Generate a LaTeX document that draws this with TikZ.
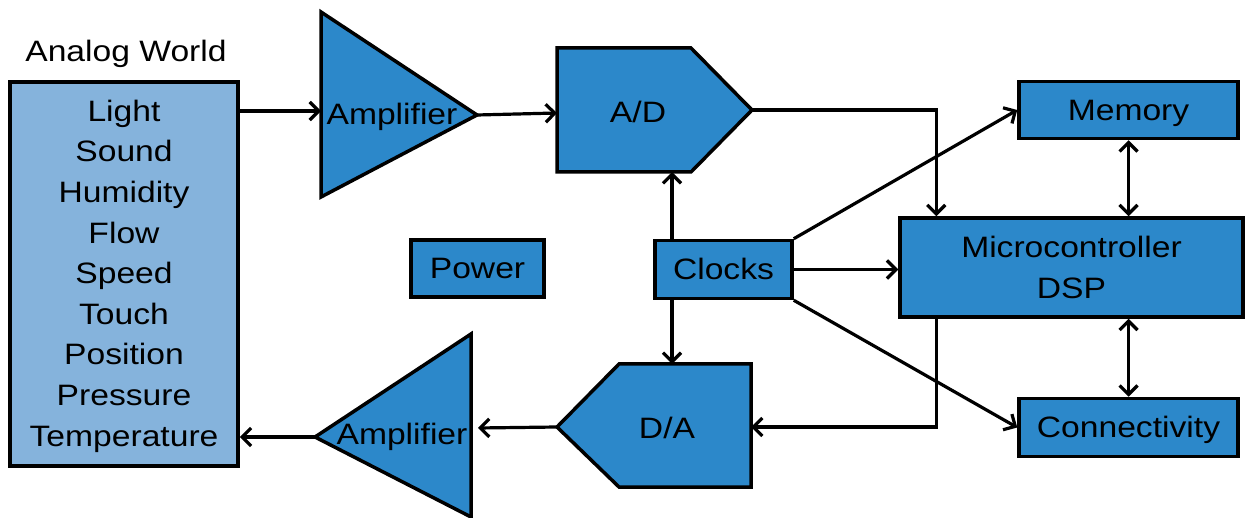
\documentclass[tikz,border=0pt]{standalone}
\usepackage{fontspec}
\setmainfont{Liberation Sans}[FakeStretch=1.14]
\usetikzlibrary{arrows.meta}
\definecolor{lblue}{RGB}{133,179,220}
\definecolor{dblue}{RGB}{44,136,202}
\begin{document}
\begin{tikzpicture}[x=1pt,y=-1pt,
  every node/.style={font=\fontsize{29.5}{40.6}\selectfont, inner sep=0pt},
  lbl/.style={text height=21pt, text depth=0pt},
  blk/.style={draw=black, line width=3.5pt, fill=dblue, line join=miter},
  box/.style={blk, align=center},
  arr/.style={line width=3.2pt, -{Straight Barb[length=9pt,width=18pt]}},
  darr/.style={line width=3.2pt, {Straight Barb[length=9pt,width=18pt]}-{Straight Barb[length=9pt,width=18pt]}}]
\useasboundingbox (0,0) rectangle (1245,518);

% Analog world
\node[lbl] (title) at (126,51) {Analog World};
\node[box, fill=lblue, minimum width=228pt, minimum height=384pt] (analog) at (124,274) {};
\node[align=center] (analogtext) at (124,276)
  {Light\\Sound\\Humidity\\Flow\\Speed\\Touch\\Position\\Pressure\\Temperature};

% Amplifier 1
\draw[blk] (321,12) -- (477,115) -- (321,197) -- cycle;
\node[lbl] (amp1) at (392,114) {Amplifier};
\coordinate (amp1in) at (321,111);
\coordinate (amp1out) at (477,115);

% Amplifier 2
\draw[blk] (471,334) -- (315,437) -- (471,517) -- cycle;
\node[lbl] (amp2) at (402,434) {Amplifier};
\coordinate (amp2in) at (478,428);
\coordinate (amp2out) at (315,437);

% A/D
\draw[blk] (557,48) -- (691,48) -- (752,110) -- (691,172) -- (557,172) -- cycle;
\node[lbl] (ad) at (638,112) {A/D};
\coordinate (adin) at (557,113);
\coordinate (adout) at (752,110);
\coordinate (adbot) at (672,172);

% D/A
\draw[blk] (751,364) -- (619,364) -- (557,427) -- (619,487) -- (751,487) -- cycle;
\node[lbl] (da) at (667,428) {D/A};
\coordinate (dain) at (751,427);
\coordinate (daout) at (557,427);
\coordinate (datop) at (672,364);

% boxes
\node[box, lbl, minimum width=133pt, minimum height=57pt] (power) at (477.5,268.5) {Power};
\node[box, lbl, minimum width=137pt, minimum height=58pt] (clocks) at (723.5,269.5) {Clocks};
\node[box, minimum width=343pt, minimum height=99pt] (micro) at (1071.5,267.5) {Microcontroller\\DSP};
\node[box, lbl, minimum width=219pt, minimum height=57pt] (memory) at (1128.5,110) {Memory};
\node[box, lbl, minimum width=219pt, minimum height=58pt] (connect) at (1128.5,427.5) {Connectivity};

% connectors
\draw[arr] (analog.east |- amp1in) -- (amp1in);
\draw[arr] (amp1out) -- (adin);
\draw[arr] (adout) -| ([xshift=38pt]micro.north west);
\draw[arr] (clocks.north -| adbot) -- (adbot);
\draw[arr] (clocks.south -| datop) -- (datop);
\draw[arr] (clocks.east) -- (micro.west |- clocks.east);
\draw[arr] (clocks.north east) -- (memory.west);
\draw[arr] (clocks.south east) -- (connect.west);
\draw[arr] ([xshift=38pt]micro.south west) |- (dain);
\draw[darr] (memory.south) -- (micro.north -| memory.south);
\draw[darr] (micro.south -| connect.north) -- (connect.north);
\draw[arr] (daout) -- (amp2in);
\draw[arr] (amp2out) -- (analog.east |- amp2out);
\end{tikzpicture}
\end{document}
